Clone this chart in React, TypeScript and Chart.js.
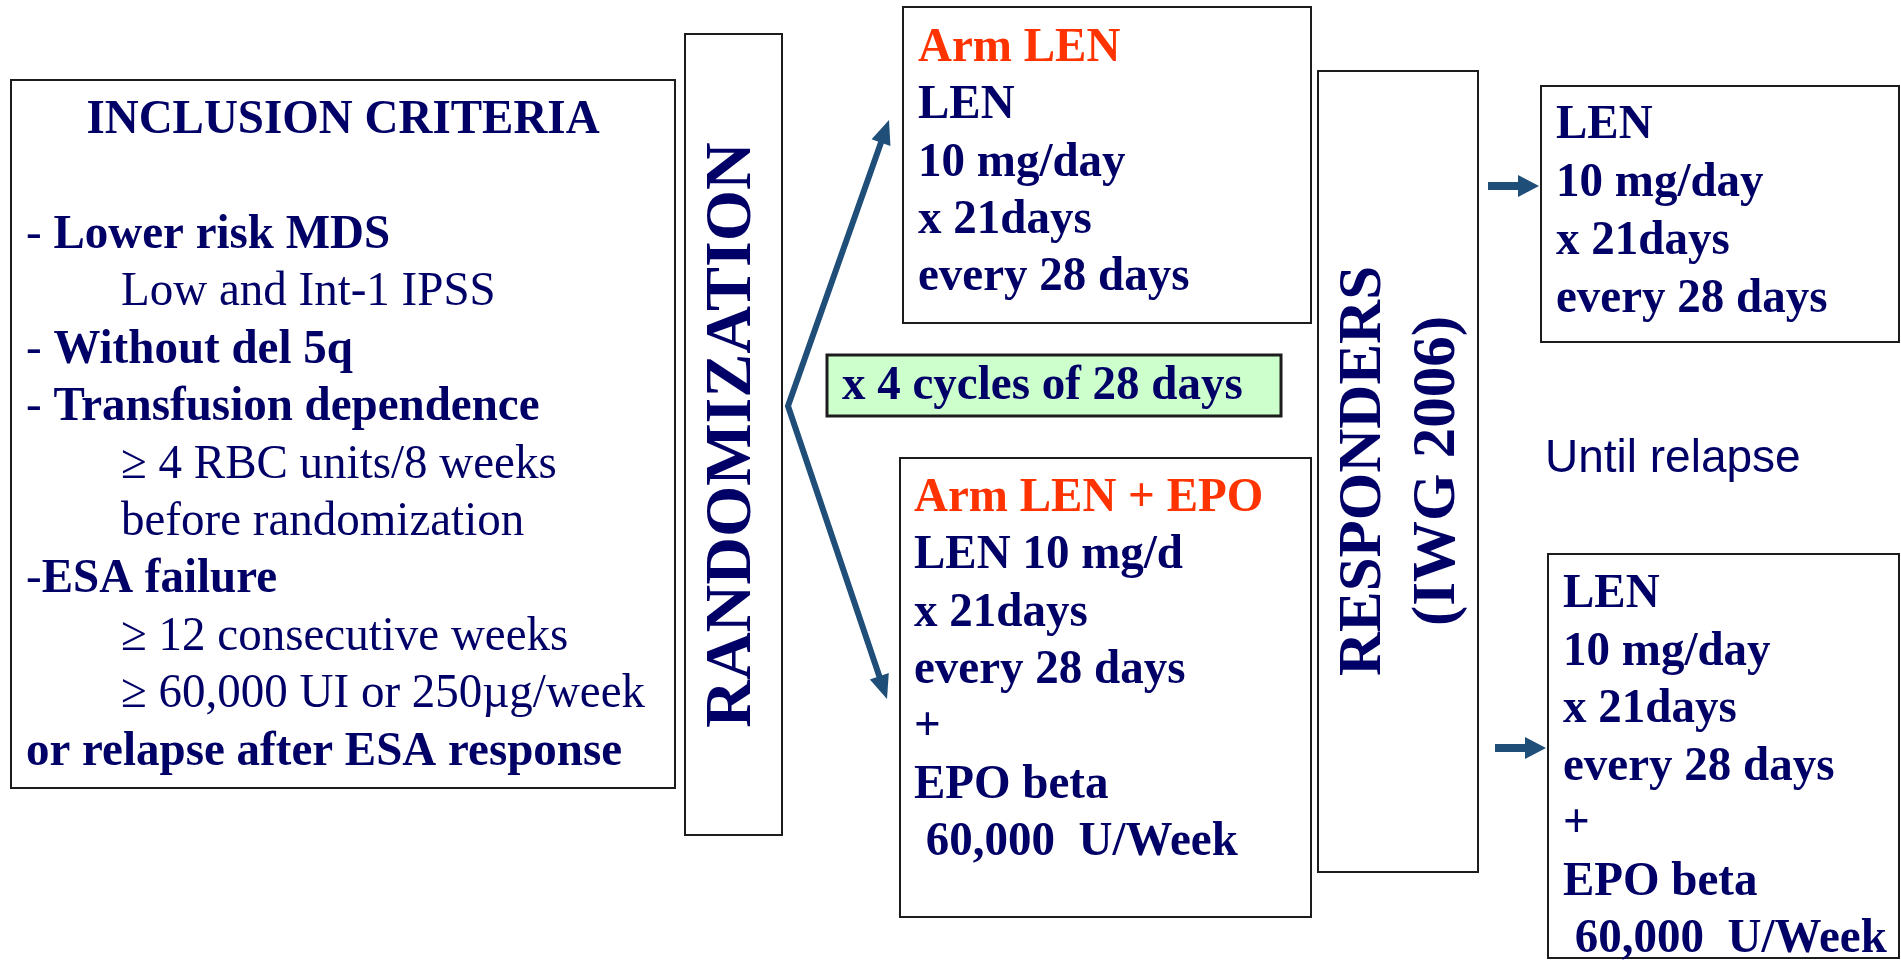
import React, { useEffect, useRef } from "react";
import { Chart, registerables } from "chart.js";

Chart.register(...registerables);

// ---------- content (text of the flow diagram) ----------
type Run = [string, boolean]; // [text, bold]
type Line = { runs: Run[]; indent?: boolean; accent?: boolean };

const inclusionTitle = "INCLUSION CRITERIA";
const inclusionLines: Line[] = [
  { runs: [["- ", false], ["Lower risk MDS", true]] },
  { runs: [["Low and Int-1 IPSS", false]], indent: true },
  { runs: [["- ", false], ["Without del 5q", true]] },
  { runs: [["- ", false], ["Transfusion dependence", true]] },
  { runs: [["\u2265 4 RBC units/8 weeks", false]], indent: true },
  { runs: [["before randomization", false]], indent: true },
  { runs: [["-", false], ["ESA failure", true]] },
  { runs: [["\u2265 12 consecutive weeks", false]], indent: true },
  { runs: [["\u2265 60,000 UI or 250\u00b5g/week", false]], indent: true },
  { runs: [["or relapse after ESA response", true]] },
];

const randomizationLabel = "RANDOMIZATION";
const respondersLabel = ["RESPONDERS", "(IWG 2006)"];
const cycleLabel = "x 4 cycles of 28 days";
const untilLabel = "Until relapse";

const armLenLines: Line[] = [
  { runs: [["Arm LEN", true]], accent: true },
  { runs: [["LEN", true]] },
  { runs: [["10 mg/day", true]] },
  { runs: [["x 21days", true]] },
  { runs: [["every 28 days", true]] },
];

const armLenEpoLines: Line[] = [
  { runs: [["Arm LEN + EPO", true]], accent: true },
  { runs: [["LEN 10 mg/d", true]] },
  { runs: [["x 21days", true]] },
  { runs: [["every 28 days", true]] },
  { runs: [["+", true]] },
  { runs: [["EPO beta", true]] },
  { runs: [[" 60,000  U/Week", true]] },
];

const maintLenLines: Line[] = [
  { runs: [["LEN", true]] },
  { runs: [["10 mg/day", true]] },
  { runs: [["x 21days", true]] },
  { runs: [["every 28 days", true]] },
];

const maintLenEpoLines: Line[] = [
  { runs: [["LEN", true]] },
  { runs: [["10 mg/day", true]] },
  { runs: [["x 21days", true]] },
  { runs: [["every 28 days", true]] },
  { runs: [["+", true]] },
  { runs: [["EPO beta", true]] },
  { runs: [[" 60,000  U/Week", true]] },
];

// ---------- layout (diagram units = page pixels, mapped through the chart scales) ----------
const W = 1901;
const H = 960;

const NAVY = "#000066";
const ORANGE = "#FF3300";
const ARROW = "#1F4E79";
const BORDER = "#1c1c1c";
const GREEN_FILL = "#CCFFCC";
const SERIF = '"Liberation Serif", "Times New Roman", serif';
const SANS = '"Liberation Sans", Arial, sans-serif';
const FONT_SIZE = 47;
const TEXT_STRETCH_Y = 1.04;

const boxInclusion = { x0: 11, y0: 80, x1: 675, y1: 788 };
const boxRandom = { x0: 685, y0: 34, x1: 782, y1: 835 };
const boxArmLen = { x0: 903, y0: 7, x1: 1311, y1: 323 };
const boxCycle = { x0: 827, y0: 355, x1: 1281, y1: 416 };
const boxArmEpo = { x0: 900, y0: 458, x1: 1311, y1: 917 };
const boxResp = { x0: 1318, y0: 71, x1: 1478, y1: 872 };
const boxMaint1 = { x0: 1541, y0: 86, x1: 1899, y1: 342 };
const boxMaint2 = { x0: 1548, y0: 554, x1: 1899, y1: 958 };

const inclusionText = { titleBaseline: 133, x: 26, indentX: 121, first: 248, step: 57.4 };
const armLenText = { x: 918, first: 61, step: 57.3 };
const armEpoText = { x: 914, first: 511, step: 57.3 };
const maint1Text = { x: 1556, first: 138, step: 58 };
const maint2Text = { x: 1563, first: 607, step: 57.5 };
const cycleText = { x: 842, baseline: 399 };
const untilText = { x: 1545, baseline: 472, size: 46 };
const randomText = { cx: 733, cy: 435, size: 66 };
const respText = { cx: [1364, 1438], cy: 471, size: 61 };

const branchVertex = { x: 788, y: 406 };
const branchTips = [
  { x: 889, y: 120 },
  { x: 887, y: 699 },
];
const branchHead = { len: 24, half: 10, width: 6 };
const smallArrows = [
  { x0: 1488, x1: 1539, y: 186 },
  { x0: 1495, x1: 1546, y: 748 },
];
const smallHead = { len: 21, half: 11, width: 8 };

// shorten a segment end so the shaft stops inside the arrow head
function shorten(from: { x: number; y: number }, to: { x: number; y: number }, by: number) {
  const dx = to.x - from.x;
  const dy = to.y - from.y;
  const d = Math.hypot(dx, dy);
  return { x: to.x - (dx / d) * by, y: to.y - (dy / d) * by };
}

const diagramPlugin = {
  id: "diagram",
  afterDatasetsDraw(chart: any) {
    const ctx: CanvasRenderingContext2D = chart.ctx;
    const sx = chart.scales.x;
    const sy = chart.scales.y;
    const X = (v: number) => sx.getPixelForValue(v);
    const Y = (v: number) => sy.getPixelForValue(v);

    const box = (b: { x0: number; y0: number; x1: number; y1: number }, fill?: string, lw = 2) => {
      const x = X(b.x0), y = Y(b.y0), w = X(b.x1) - x, h = Y(b.y1) - y;
      ctx.save();
      if (fill) {
        ctx.fillStyle = fill;
        ctx.fillRect(x, y, w, h);
      }
      ctx.strokeStyle = BORDER;
      ctx.lineWidth = lw;
      ctx.strokeRect(x, y, w, h);
      ctx.restore();
    };

    const font = (bold: boolean, size = FONT_SIZE) => `${bold ? "bold " : ""}${size}px ${SERIF}`;

    // text drawn at a baseline, slightly stretched vertically like the original slide font
    const text = (t: string, px: number, by: number, align: CanvasTextAlign = "left") => {
      ctx.save();
      ctx.translate(px, by);
      ctx.scale(1, TEXT_STRETCH_Y);
      ctx.textAlign = align;
      ctx.fillText(t, 0, 0);
      ctx.restore();
    };

    const drawLine = (line: Line, x: number, baseline: number) => {
      let cx = X(x);
      const by = Y(baseline);
      for (const [t, b] of line.runs) {
        ctx.font = font(b);
        ctx.fillStyle = line.accent ? ORANGE : NAVY;
        text(t, cx, by);
        cx += ctx.measureText(t).width;
      }
    };

    const drawBlock = (lines: Line[], t: { x: number; first: number; step: number }) => {
      lines.forEach((ln, i) => drawLine(ln, t.x, t.first + i * t.step));
    };

    ctx.save();
    ctx.textBaseline = "alphabetic";
    ctx.textAlign = "left";

    // boxes
    box(boxInclusion);
    box(boxRandom);
    box(boxArmLen);
    box(boxCycle, GREEN_FILL, 3);
    box(boxArmEpo);
    box(boxResp);
    box(boxMaint1);
    box(boxMaint2);

    // inclusion criteria
    ctx.font = font(true);
    ctx.fillStyle = NAVY;
    text(inclusionTitle, X((boxInclusion.x0 + boxInclusion.x1) / 2), Y(inclusionText.titleBaseline), "center");
    inclusionLines.forEach((ln, i) =>
      drawLine(ln, ln.indent ? inclusionText.indentX : inclusionText.x, inclusionText.first + i * inclusionText.step)
    );

    // arms and maintenance
    drawBlock(armLenLines, armLenText);
    drawBlock(armLenEpoLines, armEpoText);
    drawBlock(maintLenLines, maint1Text);
    drawBlock(maintLenEpoLines, maint2Text);

    // cycle label
    drawLine({ runs: [[cycleLabel, true]] }, cycleText.x, cycleText.baseline);

    // until relapse
    ctx.font = `${untilText.size}px ${SANS}`;
    ctx.fillStyle = NAVY;
    ctx.fillText(untilLabel, X(untilText.x), Y(untilText.baseline));

    // rotated labels
    const rotated = (t: string, cx: number, cy: number, size: number) => {
      ctx.save();
      ctx.translate(X(cx), Y(cy));
      ctx.rotate(-Math.PI / 2);
      ctx.font = font(true, size);
      ctx.fillStyle = NAVY;
      ctx.textAlign = "center";
      ctx.textBaseline = "middle";
      ctx.fillText(t, 0, 0);
      ctx.restore();
    };
    rotated(randomizationLabel, randomText.cx, randomText.cy, randomText.size);
    respondersLabel.forEach((t, i) => rotated(t, respText.cx[i], respText.cy, respText.size));

    // arrow heads
    const head = (from: { x: number; y: number }, to: { x: number; y: number }, len: number, half: number) => {
      const fx = X(from.x), fy = Y(from.y), tx = X(to.x), ty = Y(to.y);
      const a = Math.atan2(ty - fy, tx - fx);
      ctx.save();
      ctx.fillStyle = ARROW;
      ctx.beginPath();
      ctx.moveTo(tx, ty);
      ctx.lineTo(tx - len * Math.cos(a) + half * Math.sin(a), ty - len * Math.sin(a) - half * Math.cos(a));
      ctx.lineTo(tx - len * Math.cos(a) - half * Math.sin(a), ty - len * Math.sin(a) + half * Math.cos(a));
      ctx.closePath();
      ctx.fill();
      ctx.restore();
    };
    branchTips.forEach((tip) => head(branchVertex, tip, branchHead.len, branchHead.half));
    smallArrows.forEach((a) => head({ x: a.x0, y: a.y }, { x: a.x1, y: a.y }, smallHead.len, smallHead.half));

    ctx.restore();
  },
};

export default function App() {
  const ref = useRef<HTMLCanvasElement | null>(null);

  useEffect(() => {
    document.body.style.margin = "0";
    document.body.style.overflow = "hidden";
    const canvas = ref.current;
    if (!canvas) return;

    const upEnd = shorten(branchVertex, branchTips[0], branchHead.len - 4);
    const downEnd = shorten(branchVertex, branchTips[1], branchHead.len - 4);

    const datasets: any[] = [
      {
        label: "randomization branches",
        data: [upEnd, branchVertex, downEnd],
        showLine: true,
        borderColor: ARROW,
        borderWidth: branchHead.width,
        borderJoinStyle: "miter",
        borderCapStyle: "butt",
        pointRadius: 0,
        tension: 0,
      },
      ...smallArrows.map((a, i) => ({
        label: `responder arrow ${i + 1}`,
        data: [
          { x: a.x0, y: a.y },
          { x: a.x1 - smallHead.len + 2, y: a.y },
        ],
        showLine: true,
        borderColor: ARROW,
        borderWidth: smallHead.width,
        borderCapStyle: "butt",
        pointRadius: 0,
      })),
    ];

    const chart = new Chart(canvas, {
      type: "scatter",
      data: { datasets },
      options: {
        responsive: false,
        animation: false,
        devicePixelRatio: 1,
        layout: { padding: 0 },
        events: [],
        plugins: { legend: { display: false }, tooltip: { enabled: false }, title: { display: false } },
        scales: {
          x: { type: "linear", min: 0, max: W, display: false },
          y: { type: "linear", min: 0, max: H, reverse: true, display: false },
        },
      },
      plugins: [diagramPlugin],
    });
    return () => chart.destroy();
  }, []);

  return (
    <div style={{ position: "fixed", left: 0, top: 0, width: W, height: H, background: "#fff", overflow: "hidden" }}>
      <canvas ref={ref} width={W} height={H} style={{ display: "block", width: W, height: H }} />
    </div>
  );
}
